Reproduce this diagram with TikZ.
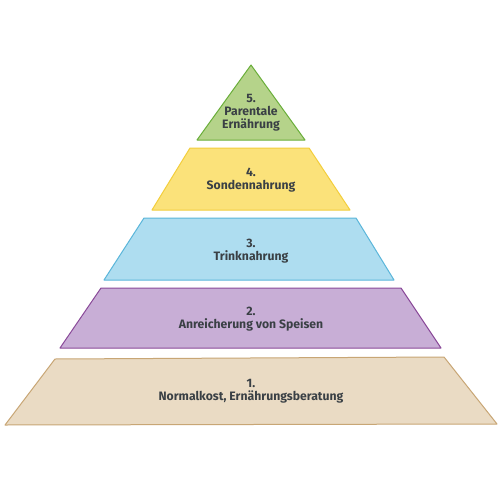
\documentclass[tikz,border=0pt]{standalone}
\usepackage{fontspec}
\setmainfont{Fira Sans}
\definecolor{txt}{HTML}{3A4045}
\definecolor{gF}{HTML}{B5D38A}\definecolor{gD}{HTML}{6AAE3A}
\definecolor{yF}{HTML}{FBE27A}\definecolor{yD}{HTML}{F3CE3C}
\definecolor{bF}{HTML}{AEDDF0}\definecolor{bD}{HTML}{5BB6DA}
\definecolor{pF}{HTML}{C8AED6}\definecolor{pD}{HTML}{8A4A99}
\definecolor{eF}{HTML}{EADBC4}\definecolor{eD}{HTML}{C8A675}
\tikzset{
  layer/.style={line width=1pt, line join=round},
  lbl/.style={font=\bfseries\fontsize{12.2}{13}\selectfont, text=txt, align=center, inner sep=0pt}
}
\begin{document}
\begin{tikzpicture}[x=1pt,y=-1pt]
\useasboundingbox (0,0) rectangle (500,500);
\fill[white] (0,0) rectangle (500,500);
% layer 5
\filldraw[layer, fill=gF, draw=gD] (251,65) -- (305,140) -- (197,140) -- cycle;
% layer 4
\filldraw[layer, fill=yF, draw=yD] (190,148) -- (309,148) -- (350,210) -- (152,210) -- cycle;
% layer 3
\filldraw[layer, fill=bF, draw=bD] (144,218) -- (356,218) -- (394,280) -- (104,280) -- cycle;
% layer 2
\filldraw[layer, fill=pF, draw=pD] (101,288) -- (401,288) -- (441,348) -- (60,348) -- cycle;
% layer 1
\filldraw[layer, fill=eF, draw=eD] (55,359) -- (444,357) -- (497,424) -- (5,425) -- cycle;
% labels
\node[lbl] (l5) at (251,113) {5.\\Parentale\\Ernährung};
\node[lbl] (l4) at (251,180) {4.\\Sondennahrung};
\node[lbl] (l3) at (251,251) {3.\\Trinknahrung};
\node[lbl] (l2) at (251,319) {2.\\Anreicherung von Speisen};
\node[lbl] (l1) at (251,391) {1.\\Normalkost, Ernährungsberatung};
\end{tikzpicture}
\end{document}
